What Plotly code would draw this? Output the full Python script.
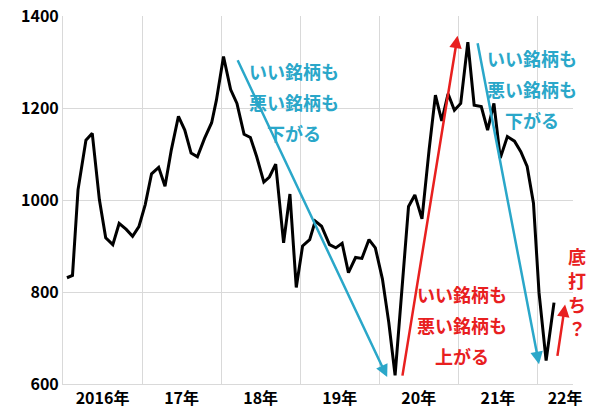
import plotly.graph_objects as go

# position in years since start of 2016
x_years = [0.05, 0.12, 0.19, 0.29, 0.37, 0.46, 0.54, 0.63, 0.71, 0.80, 0.88, 0.96,
           1.04, 1.12, 1.21, 1.29, 1.37, 1.46, 1.54, 1.62, 1.70, 1.79, 1.88, 1.94,
           2.03, 2.12, 2.20, 2.29, 2.37, 2.45, 2.54, 2.61, 2.69, 2.79, 2.87, 2.95,
           3.03, 3.12, 3.19, 3.27, 3.37, 3.45, 3.53, 3.61, 3.70, 3.78, 3.87, 3.95,
           4.04, 4.12, 4.20, 4.28, 4.37, 4.45, 4.54, 4.63, 4.71, 4.79, 4.87, 4.95,
           5.03, 5.12, 5.20, 5.29, 5.37, 5.45, 5.53, 5.62, 5.71, 5.79, 5.87, 5.95,
           6.02, 6.11, 6.21]
values = [831, 836, 1022, 1130, 1145, 1001, 918, 903, 949, 936, 921, 942,
          990, 1057, 1071, 1030, 1109, 1182, 1152, 1102, 1094, 1134, 1168, 1217,
          1312, 1240, 1210, 1143, 1136, 1094, 1039, 1050, 1078, 907, 1013, 810,
          900, 914, 954, 943, 903, 896, 906, 842, 875, 873, 914, 896,
          828, 734, 619, 799, 986, 1011, 959, 1109, 1228, 1172, 1231, 1195,
          1210, 1343, 1206, 1203, 1152, 1210, 1091, 1138, 1128, 1105, 1073, 993,
          799, 651, 777]

tick_pos = [0.5, 1.5, 2.5, 3.5, 4.5, 5.5, 6.35]
tick_text = ["2016年", "17年", "18年", "19年", "20年", "21年", "22年"]
y_ticks = [600, 800, 1000, 1200, 1400]

BLUE = "#2aa7c9"
RED = "#e8201f"
FONT = "Noto Sans CJK JP"

fig = go.Figure()
fig.add_trace(go.Scatter(x=x_years, y=values, mode="lines",
                         line=dict(color="black", width=3), showlegend=False))

# (x_tail, y_tail, x_head, y_head, colour)
arrows = [
    (2.20, 1307, 4.10, 615, BLUE),
    (4.29, 615, 4.99, 1357, RED),
    (5.24, 1344, 6.02, 643, BLUE),
    (6.25, 658, 6.35, 773, RED),
]
for x0, y0, x1, y1, c in arrows:
    fig.add_annotation(x=x1, y=y1, ax=x0, ay=y0, xref="x", yref="y", axref="x", ayref="y",
                       showarrow=True, arrowhead=2, arrowsize=1, arrowwidth=2.5,
                       arrowcolor=c, text="")

# labels: x, y of the middle line, lines, colour
labels = [
    (2.92, 1213, ["いい銘柄も", "悪い銘柄も", "下がる"], BLUE),
    (5.93, 1242, ["いい銘柄も", "悪い銘柄も", "下がる"], BLUE),
    (5.05, 728, ["いい銘柄も", "悪い銘柄も", "上がる"], RED),
]
for x, y, lines, c in labels:
    for i, t in enumerate(lines):
        fig.add_annotation(x=x, y=y, xref="x", yref="y", yshift=(1 - i) * 31,
                           text="<b>" + t + "</b>", showarrow=False,
                           font=dict(family=FONT, size=18, color=c))

# outside the x range, so placed relative to the paper
for i, t in enumerate(["底", "打", "ち", "？"]):
    fig.add_annotation(x=1.03, y=0.21, xref="paper", yref="paper", yshift=(1.5 - i) * 24,
                       text="<b>" + t + "</b>", showarrow=False,
                       font=dict(family=FONT, size=18, color=RED))

fig.update_layout(
    width=600, height=416, margin=dict(l=55, r=35, t=8, b=40),
    plot_bgcolor="white", paper_bgcolor="white",
    font=dict(family=FONT, size=16, color="black"),
    xaxis=dict(range=[0, 6.45], tickvals=tick_pos, ticktext=["<b>%s</b>" % t for t in tick_text],
               showgrid=False, zeroline=False, showline=True, linecolor="#d9d9d9",
               automargin=False, ticklabeloverflow="allow",
               minor=dict(tickvals=[1, 2, 3, 4, 5, 6], showgrid=True, gridcolor="#d9d9d9")),
    yaxis=dict(range=[600, 1400], tickvals=y_ticks,
               ticktext=["<b>%d</b>" % v for v in y_ticks],
               automargin=False, ticklabeloverflow="allow",
               gridcolor="#d9d9d9", zeroline=False, showline=True, linecolor="#d9d9d9"),
)

fig.write_html("out.html")
